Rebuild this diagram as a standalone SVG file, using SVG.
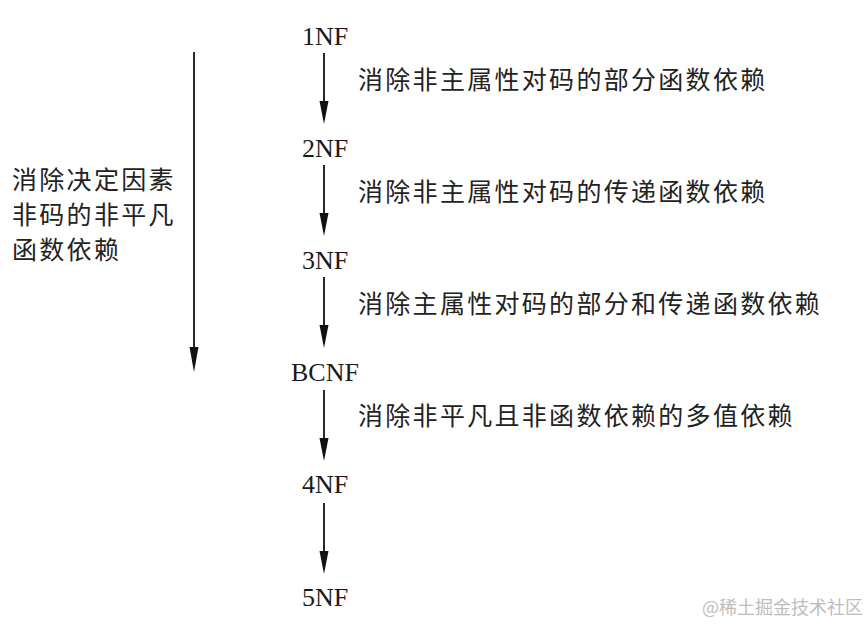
<svg xmlns="http://www.w3.org/2000/svg" width="867" height="627" viewBox="0 0 867 627">
<style>
.nf{font-family:"Liberation Serif","Times New Roman",serif;font-size:26px;fill:#1a1a1a;text-anchor:middle}
.cn{font-family:"Noto Sans CJK SC","Noto Sans",sans-serif;font-size:25px;fill:#222;letter-spacing:2.3px}
.wm{font-family:"Noto Sans CJK SC",sans-serif;font-size:18px;fill:#bdbdbd}
.ln{stroke:#111;stroke-width:1.8}
.hd{fill:#111}
</style>
<rect width="867" height="627" fill="#fff"/>
<g id="connectors">
<line class="ln" x1="324" y1="53" x2="324" y2="104"/><path class="hd" d="M319.5,101 L328.5,101 L324,124 Z"/>
<line class="ln" x1="324" y1="165" x2="324" y2="216"/><path class="hd" d="M319.5,213 L328.5,213 L324,236 Z"/>
<line class="ln" x1="324" y1="277" x2="324" y2="328"/><path class="hd" d="M319.5,325 L328.5,325 L324,348 Z"/>
<line class="ln" x1="324" y1="390" x2="324" y2="441"/><path class="hd" d="M319.5,438 L328.5,438 L324,461 Z"/>
<line class="ln" x1="324" y1="503" x2="324" y2="554"/><path class="hd" d="M319.5,551 L328.5,551 L324,574 Z"/>
<line class="ln" x1="194" y1="52" x2="194" y2="350"/><path class="hd" d="M189.5,347 L198.5,347 L194,372 Z"/>
</g>
<g id="n1NF"><text class="nf" x="325" y="45">1NF</text></g>
<g id="n2NF"><text class="nf" x="325" y="157">2NF</text></g>
<g id="n3NF"><text class="nf" x="325" y="269">3NF</text></g>
<g id="nBCNF"><text class="nf" x="325" y="381">BCNF</text></g>
<g id="n4NF"><text class="nf" x="325" y="493">4NF</text></g>
<g id="n5NF"><text class="nf" x="325" y="606">5NF</text></g>
<g id="labels">
<text class="cn" x="358" y="89">消除非主属性对码的部分函数依赖</text>
<text class="cn" x="358" y="201">消除非主属性对码的传递函数依赖</text>
<text class="cn" x="358" y="313">消除主属性对码的部分和传递函数依赖</text>
<text class="cn" x="358" y="425">消除非平凡且非函数依赖的多值依赖</text>
</g>
<g id="sideLabel">
<text class="cn" x="12" y="189">消除决定因素</text>
<text class="cn" x="12" y="224">非码的非平凡</text>
<text class="cn" x="12" y="259">函数依赖</text>
</g>
<text class="wm" x="702" y="614">@稀土掘金技术社区</text>
</svg>
